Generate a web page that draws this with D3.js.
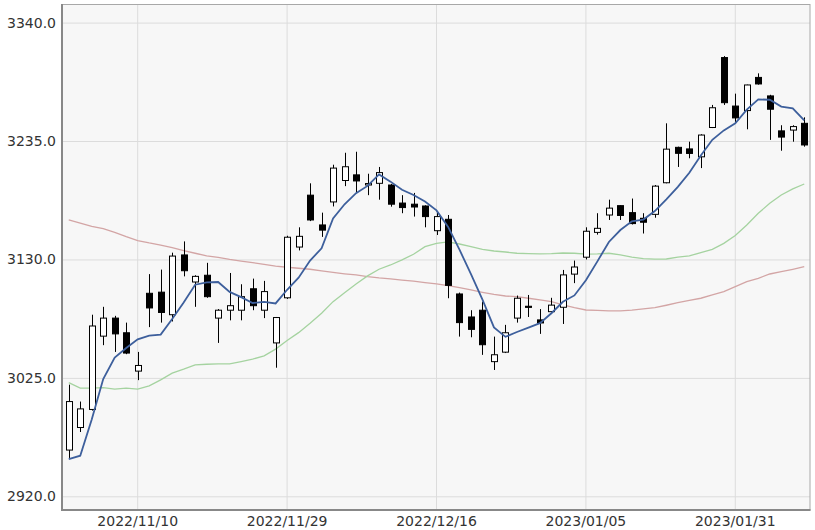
<!DOCTYPE html>
<html><head><meta charset="utf-8">
<script src="https://cdn.jsdelivr.net/npm/d3@7"></script>
<style>body{margin:0;background:#fff}svg{display:block}</style>
</head><body><svg id="c" width="815" height="530"></svg>
<script>
const dates = ["2022/11/02","2022/11/03","2022/11/04","2022/11/07","2022/11/08","2022/11/09","2022/11/10","2022/11/11","2022/11/14","2022/11/15","2022/11/16","2022/11/17","2022/11/18","2022/11/21","2022/11/22","2022/11/23","2022/11/24","2022/11/25","2022/11/28","2022/11/29","2022/11/30",
"2022/12/01","2022/12/02","2022/12/05","2022/12/06","2022/12/07","2022/12/08","2022/12/09","2022/12/12","2022/12/13","2022/12/14","2022/12/15","2022/12/16","2022/12/19","2022/12/20","2022/12/21","2022/12/22","2022/12/23","2022/12/26","2022/12/27","2022/12/28","2022/12/29","2022/12/30",
"2023/01/03","2023/01/04","2023/01/05","2023/01/06","2023/01/09","2023/01/10","2023/01/11","2023/01/12","2023/01/13","2023/01/16","2023/01/17","2023/01/18","2023/01/19","2023/01/20","2023/01/30","2023/01/31",
"2023/02/01","2023/02/02","2023/02/03","2023/02/06","2023/02/07","2023/02/08"];
const open  = [2961,2981,2997,3062,3078,3065,3031,3100,3101,3081,3134,3110,3116,3078,3085,3085,3104,3085,3056,3096,3141,3187,3160.6,3181,3200,3205,3196,3197.5,3196,3180,3179,3177.4,3155.5,3165.6,3099.4,3079,3085,3039.4,3047.8,3078,3088.5,3076.4,3083.7,3087.6,3117,3132,3154,3169.4,3177.7,3171.5,3166.5,3170,3198,3229.4,3228,3221,3247,3309,3266,3262,3291.4,3275,3244,3244.7,3250.7];
const high  = [3019,3004,3081,3088,3080,3074,3048,3117,3121,3136,3146,3116,3127,3086,3118,3108,3113,3111,3079,3151,3158.5,3197.5,3171.5,3214,3224.6,3225.5,3206,3212,3197,3187,3189,3178,3171.5,3169.4,3100.6,3085,3092.6,3061.6,3072,3098,3098.5,3086,3096,3120.7,3129,3158.5,3171,3183,3178,3184,3171,3196,3250.7,3230,3234.4,3241,3267,3310.3,3277,3285,3295,3276,3249,3249,3256];
const low   = [2954,2977,2996,3054,3048,3046,3023,3070,3074,3075,3115,3088,3096,3056,3076,3076,3085,3078,3034,3095,3138,3164,3150,3177,3195,3189,3187,3183,3176.8,3171,3168,3158.5,3151.7,3095.6,3061.6,3061,3045.4,3032,3047,3074,3079,3064,3083,3072.8,3109,3130,3152,3165,3165,3161,3153,3167,3197.5,3212,3219.7,3211,3246.5,3267,3252,3245.4,3285,3236,3226.4,3234.4,3230];
const close = [3004,2997.5,3071,3078,3064,3047,3036,3087,3083,3133,3120,3115,3097,3085,3089,3097,3089,3101.5,3078.5,3149.7,3150.5,3165,3156,3211,3212.2,3199.6,3197.3,3207,3179,3176,3176.5,3168,3168,3107,3074,3068,3054.4,3045.5,3065,3095.6,3087.5,3073.7,3089.5,3116.3,3123.3,3155,3157.6,3175.5,3169,3161.8,3163,3195,3227.8,3224.1,3224,3240.3,3264.5,3269,3255.5,3284.7,3285.6,3263.2,3238.5,3247.8,3231.5];
const ma5   = [2953,2956,2988,3024,3042.9,3051.5,3059.2,3062.4,3063.4,3077.2,3091.8,3107.6,3109.6,3110,3101.2,3096.6,3091.4,3092.3,3091,3103.1,3113.8,3129,3139.9,3166.4,3178.9,3188.8,3195.2,3205.4,3199,3191.8,3187.2,3181.3,3173.5,3159.1,3138.7,3117,3094.3,3069.8,3061.4,3065.7,3069.6,3073.5,3082.3,3092.5,3098.1,3111.6,3128.3,3145.5,3156.1,3163.8,3165.4,3172.9,3183.3,3194.3,3206.8,3222.2,3236.1,3244.4,3250.7,3262.8,3271.9,3271.6,3265.5,3264,3253.3];
const ma25  = [3020.8,3015.9,3015.9,3016.4,3015,3015.9,3015,3017.9,3023.2,3029.2,3032.7,3036.5,3037.1,3037.4,3037.4,3039.4,3041.6,3044.5,3050.5,3058.1,3065.1,3073.4,3082.3,3092.6,3100.5,3108.3,3115.4,3121.3,3125.1,3129.6,3134.6,3141.3,3144.3,3145.5,3143.7,3141.3,3139,3137.5,3136.6,3135.5,3135.1,3134.9,3135.1,3135.7,3135.5,3134.8,3134.9,3135.5,3134,3132,3130.7,3130.2,3130.4,3132,3133.1,3136.1,3139,3144.3,3151.2,3160.6,3171,3179.8,3187.1,3192.5,3196.9];
const ma75  = [3165,3162.1,3159.4,3157.3,3154.1,3150.2,3146.7,3144.6,3142.8,3140.5,3137.8,3135.5,3133.1,3131.8,3130,3128.5,3127.2,3125.6,3124,3123.1,3122.2,3121.3,3119.8,3118.5,3117.3,3116.3,3114.8,3113.6,3112.7,3111.6,3110.7,3109.4,3108.3,3106.8,3105,3103,3100.9,3099,3097.6,3097,3095.6,3094.1,3092.6,3089.7,3087.3,3085.2,3084.8,3084.4,3084.4,3085,3086.1,3087.3,3089.4,3091.7,3093.7,3095.6,3098.5,3101.5,3105.9,3110.3,3113.3,3117.1,3119.2,3121.3,3123.6];
const yTicks = [2920,3025,3130,3235,3340];
const xTicks = ["2022/11/10","2022/11/29","2022/12/16","2023/01/05","2023/01/31"];

const svg = d3.select("#c");
const L = 62, R = 810, T = 4.5, B = 510;
const x = d3.scaleBand().domain(dates).range([63, 810]).padding(0);
const cx = d => x(d) + x.bandwidth() / 2;
const y = d3.scaleLinear().domain([2920, 3340]).range([496.3, 22.6]);

svg.append("rect").attr("x", L).attr("y", T).attr("width", R - L).attr("height", B - T).attr("fill", "#f7f7f7");

// horizontal grid + labels
const ya = svg.append("g").attr("transform", `translate(${L},0)`)
  .call(d3.axisLeft(y).tickValues(yTicks).tickFormat(d3.format(".1f")).tickSize(-(R - L)).tickPadding(6));
ya.select(".domain").remove();
ya.selectAll(".tick line").attr("stroke", "#dcdcdc").attr("stroke-width", 1);
ya.selectAll(".tick text").attr("font-family", "DejaVu Sans, Verdana, sans-serif").attr("font-size", "14px").attr("fill", "#333");

// vertical grid + labels
const xa = svg.append("g").attr("transform", `translate(0,${B})`)
  .call(d3.axisBottom(x).tickValues(xTicks).tickSize(-(B - T)).tickPadding(6));
xa.select(".domain").remove();
xa.selectAll(".tick line").attr("stroke", "#dcdcdc").attr("stroke-width", 1);
xa.selectAll(".tick text").attr("font-family", "DejaVu Sans, Verdana, sans-serif").attr("font-size", "14px").attr("fill", "#333");

// border
svg.append("rect").attr("x", L + 0.5).attr("y", T).attr("width", R - L - 0.5).attr("height", B - T)
  .attr("fill", "none").attr("stroke", "#a8a8a8").attr("stroke-width", 1);
svg.append("line").attr("x1", L).attr("x2", L).attr("y1", T - 0.5).attr("y2", B + 1).attr("stroke", "#888").attr("stroke-width", 2);
svg.append("line").attr("x1", L - 1).attr("x2", R + 0.5).attr("y1", B).attr("y2", B).attr("stroke", "#888").attr("stroke-width", 2);

// moving averages
const line = arr => d3.line().x((d, i) => cx(dates[i])).y(d => y(d))(arr);
svg.append("path").attr("d", line(ma75)).attr("fill", "none").attr("stroke", "#d3a5a5").attr("stroke-width", 1.3);
svg.append("path").attr("d", line(ma25)).attr("fill", "none").attr("stroke", "#a5d3a0").attr("stroke-width", 1.3);

// candles
const idx = d3.range(dates.length);
const g = svg.append("g");
g.selectAll("line.w").data(idx).join("line")
  .attr("x1", i => Math.round(cx(dates[i])) + 0.5).attr("x2", i => Math.round(cx(dates[i])) + 0.5)
  .attr("y1", i => y(high[i])).attr("y2", i => y(low[i]))
  .attr("stroke", "#000").attr("stroke-width", 1);
g.selectAll("rect.b").data(idx).join("rect")
  .attr("x", i => Math.round(cx(dates[i])) - 2.5)
  .attr("width", 6)
  .attr("y", i => y(Math.max(open[i], close[i])))
  .attr("height", i => Math.max(1, Math.abs(y(open[i]) - y(close[i]))))
  .attr("fill", i => close[i] >= open[i] ? "#fff" : "#000")
  .attr("stroke", "#000").attr("stroke-width", 1);

svg.append("path").attr("d", line(ma5)).attr("fill", "none").attr("stroke", "#3d5f9c").attr("stroke-width", 1.8);
</script></body></html>
